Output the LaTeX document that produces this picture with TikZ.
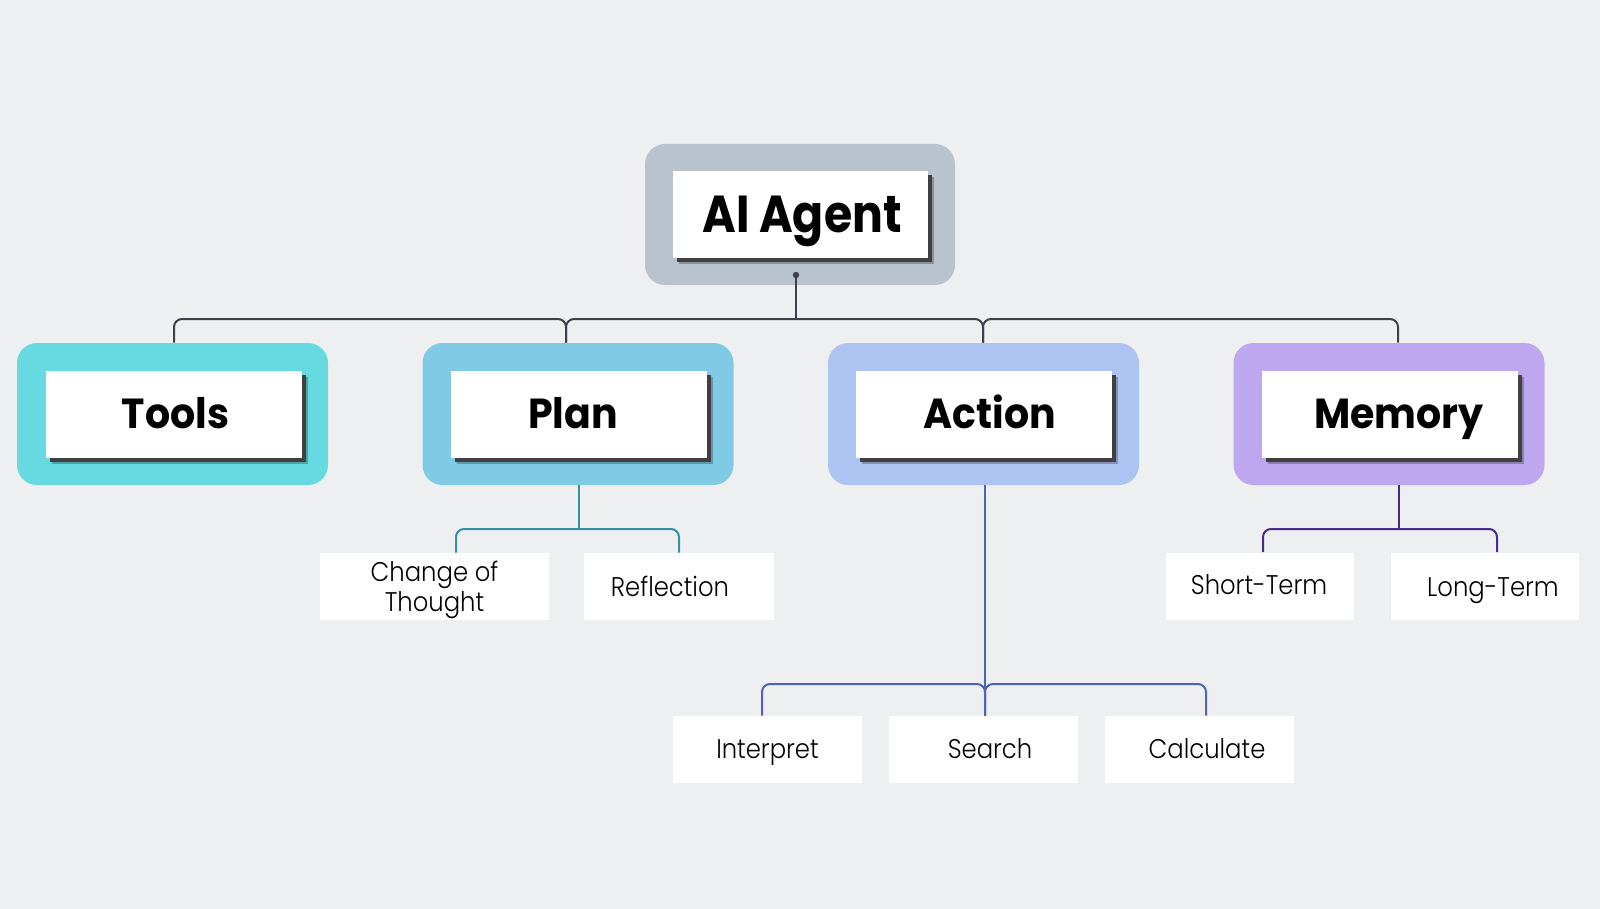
\documentclass[tikz,border=0pt]{standalone}
\usepackage{fontspec}
\setmainfont{Poppins}
\newfontfamily\lightfont{Poppins Light}[FakeStretch=0.9]
\newfontfamily\headfont{Poppins}[FakeStretch=0.94]
\newfontfamily\titlefont{Poppins}[FakeStretch=0.88]
\definecolor{bgc}{HTML}{EEEFF1}
\definecolor{agentc}{HTML}{B9C3CD}
\definecolor{toolsc}{HTML}{67D9E1}
\definecolor{planc}{HTML}{80CAE6}
\definecolor{actionc}{HTML}{ADC3F1}
\definecolor{memoryc}{HTML}{BDA8EF}
\definecolor{busc}{HTML}{3C4048}
\definecolor{planl}{HTML}{3590A6}
\definecolor{actionl}{HTML}{4C66B5}
\definecolor{memoryl}{HTML}{472A8A}
\tikzset{
  outerbox/.style={rounded corners=10pt, minimum width=155.5pt, minimum height=71pt, inner sep=0pt},
  innerbox/.style={fill=white, minimum width=128pt, minimum height=43.5pt, inner sep=0pt,
    text height=13.5pt, text depth=0pt,
    font=\headfont\bfseries\fontsize{21}{24}\selectfont,
    preaction={fill=black, opacity=0.25, transform canvas={xshift=3pt, yshift=-3pt}},
    preaction={fill=black!75, transform canvas={xshift=2pt, yshift=-2pt}}},
  leafbox/.style={fill=white, minimum height=33.5pt, inner sep=0pt, align=center,
    text height=9pt, text depth=0pt,
    font=\lightfont\fontsize{13.5}{13.5}\selectfont},
  conn/.style={line width=1pt, rounded corners=4pt},
}
\begin{document}
\begin{tikzpicture}[x=0.5pt,y=-0.5pt]
\fill[bgc] (0,0) rectangle (1600,909);
\useasboundingbox (0,0) rectangle (1600,909);

% top
\node[outerbox, fill=agentc, minimum width=155pt, minimum height=70.5pt] (agentbg) at (800,214.5) {};
\node[innerbox, minimum width=127.5pt, text height=18.5pt, font=\titlefont\bfseries\fontsize{26}{30}\selectfont] (agent) at (800.5,214.5) {\hspace*{1.5pt}AI Agent};

% main categories
\node[outerbox, fill=toolsc] (toolsbg) at (172.5,414) {};
\node[innerbox] (tools) at (174,414.5) {\hspace*{1.5pt}Tools};
\node[outerbox, fill=planc] (planbg) at (578,414) {};
\node[innerbox] (plan) at (578.5,414.5) {\hspace*{-5.5pt}Plan};
\node[outerbox, fill=actionc] (actionbg) at (983.5,414) {};
\node[innerbox] (action) at (983.5,414.5) {\hspace*{6.5pt}Action};
\node[outerbox, fill=memoryc] (memorybg) at (1389,414) {};
\node[innerbox] (memory) at (1389.5,414.5) {\hspace*{9.5pt}Memory};

% leaves
\node[leafbox, minimum width=114.5pt, text height=24.5pt, text depth=0pt] (cot) at (434.5,586.5) {Change of\\Thought};
\node[leafbox, minimum width=95pt, text height=9.5pt] (refl) at (679,586.5) {\hspace*{-9pt}Reflection};
\node[leafbox, minimum width=94.5pt, text height=8.5pt] (interp) at (767.5,749.5) {Interpret};
\node[leafbox, minimum width=94.5pt, text height=8.5pt] (search) at (983.5,749.5) {\hspace*{6.5pt}Search};
\node[leafbox, minimum width=94.5pt, text height=8.5pt] (calc) at (1199.5,749.5) {\hspace*{7.5pt}Calculate};
\node[leafbox, minimum width=94pt, text height=8pt] (short) at (1260,586) {\hspace*{-1pt}Short-Term};
\node[leafbox, minimum width=94pt, text height=10pt] (long) at (1485,586) {\hspace*{8pt}Long-Term};

% helper coordinates
\coordinate (bus) at (0,319);
\coordinate (pbus) at (0,529);
\coordinate (abus) at (0,684);
\coordinate (mbus) at (0,529);
\coordinate (adot) at (796,275);
\coordinate (tt) at ([xshift=0.75pt]toolsbg.north);
\coordinate (pt) at ([xshift=-6pt]planbg.north);
\coordinate (at) at ([xshift=-0.25pt]actionbg.north);
\coordinate (mt) at ([xshift=4.5pt]memorybg.north);

% bus
\fill[busc] (adot) circle (1.6pt);
\draw[busc, line width=1pt] (adot) -- (adot |- bus);
\draw[busc, conn] (tt) -- (tt |- bus) -- (pt |- bus) -- (pt);
\draw[busc, conn] (pt) -- (pt |- bus) -- (at |- bus) -- (at);
\draw[busc, conn] (at) -- (at |- bus) -- (mt |- bus) -- (mt);

% plan children
\coordinate (pb) at ([xshift=0.5pt]planbg.south);
\coordinate (c1) at ([xshift=10.75pt]cot.north);
\draw[planl, line width=1pt] (pb) -- (pb |- pbus);
\draw[planl, conn] (c1) -- (c1 |- pbus) -- (refl.north |- pbus) -- (refl.north);

% action children
\coordinate (ab) at ([xshift=0.75pt]actionbg.south);
\coordinate (i1) at ([xshift=-2.75pt]interp.north);
\coordinate (s1) at ([xshift=0.75pt]search.north);
\coordinate (k1) at ([xshift=3.25pt]calc.north);
\draw[actionl, line width=1pt] (ab) -- (s1);
\draw[actionl, conn] (i1) -- (i1 |- abus) -- (s1 |- abus) -- (s1);
\draw[actionl, conn] (s1) -- (s1 |- abus) -- (k1 |- abus) -- (k1);

% memory children
\coordinate (mb) at ([xshift=5pt]memorybg.south);
\coordinate (st) at ([xshift=1.5pt]short.north);
\coordinate (lt) at ([xshift=6pt]long.north);
\draw[memoryl, line width=1pt] (mb) -- (mb |- mbus);
\draw[memoryl, conn] (st) -- (st |- mbus) -- (lt |- mbus) -- (lt);
\end{tikzpicture}
\end{document}
